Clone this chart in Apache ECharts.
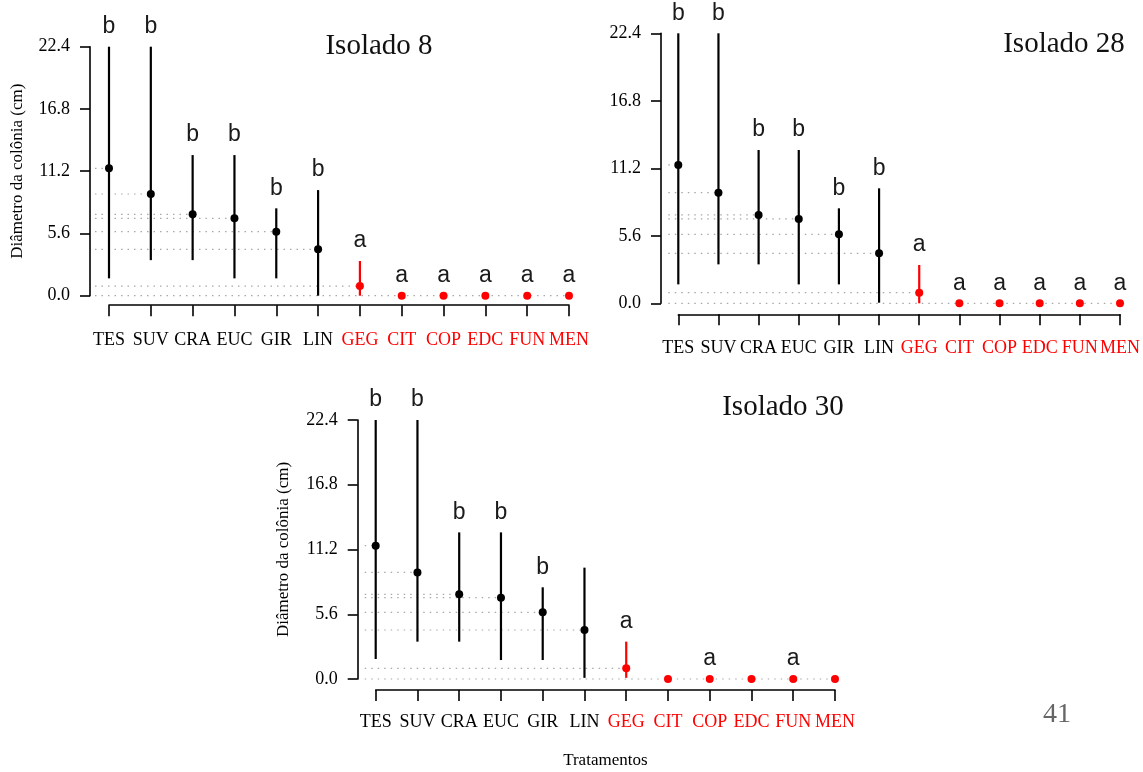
<!DOCTYPE html>
<html><head><meta charset="utf-8">
<script src="https://cdn.jsdelivr.net/npm/echarts@6/dist/echarts.min.js"></script>
<style>html,body{margin:0;padding:0;background:#fff}#c{width:1143px;height:772px}</style>
</head><body><div id="c"></div>
<script>
// ---------- data ----------
const categories = ["TES","SUV","CRA","EUC","GIR","LIN","GEG","CIT","COP","EDC","FUN","MEN"];
const nBlack = 6; // first six treatments drawn in black, the rest in red
const yTickStep = 5.6;
const yMax = 22.4;

const mean8 = [11.46, 9.15, 7.32, 6.96, 5.76, 4.17, 0.87, 0, 0, 0, 0, 0];
const low8  = [1.56, 3.20, 3.20, 1.56, 1.56, 0.00, 0.00, 0, 0, 0, 0, 0];
const up8   = [22.4, 22.4, 12.65, 12.65, 7.86, 9.50, 3.12, 0, 0, 0, 0, 0];
const letters8 = ["b","b","b","b","b","b","a","a","a","a","a","a"];

const mean28 = [11.48, 9.18, 7.33, 7.00, 5.72, 4.15, 0.88, 0, 0, 0, 0, 0];
const low28  = [1.57, 3.23, 3.23, 1.57, 1.57, 0.05, 0.00, 0, 0, 0, 0, 0];
const up28   = [22.4, 22.4, 12.72, 12.72, 7.88, 9.54, 3.18, 0, 0, 0, 0, 0];
const letters28 = ["b","b","b","b","b","b","a","a","a","a","a","a"];

const mean30 = [11.53, 9.22, 7.32, 7.03, 5.77, 4.24, 0.92, 0, 0, 0, 0, 0];
const low30  = [1.73, 3.23, 3.23, 1.64, 1.64, 0.10, 0.10, 0, 0, 0, 0, 0];
const up30   = [22.4, 22.4, 12.68, 12.68, 7.93, 9.63, 3.23, 0, 0, 0, 0, 0];
const letters30 = ["b","b","b","b","b","","a","","a","","a",""];

const yName = "Diâmetro da colônia (cm)";
const xName = "Tratamentos";
const pageNumber = "41";

// ---------- layout ----------
const SERIF = '"Liberation Serif", "Times New Roman", serif';
const SANS = '"Liberation Sans", Arial, sans-serif';
const panels = [
  {title:"Isolado 8", mean:mean8, low:low8, up:up8, letters:letters8,
   grid:{left:109, top:46.7, width:460, height:249}, xOff:9.5, yOff:19,
   xLabelMargin:26, yName:yName, yNameGap:64, titleX:379, titleY:46, guide:14},
  {title:"Isolado 28", mean:mean28, low:low28, up:up28, letters:letters28,
   grid:{left:678.3, top:33.3, width:445.7, height:270}, xOff:11, yOff:17.3,
   xLabelMargin:25, yName:"", yNameGap:60, titleX:1064, titleY:44, guide:10},
  {title:"Isolado 30", mean:mean30, low:low30, up:up30, letters:letters30,
   grid:{left:375.7, top:420, width:459.3, height:259}, xOff:11, yOff:18,
   xLabelMargin:23, yName:yName, yNameGap:66, titleX:783, titleY:407, guide:11,
   xName:xName}
];

const colorOf = i => i < nBlack ? "#000000" : "#ff0000";

const grids = [], xAxes = [], yAxes = [], series = [], graphics = [];
panels.forEach((p, k) => {
  grids.push(Object.assign({containLabel:false}, p.grid));
  xAxes.push({
    type:"category", gridIndex:k, data:categories, boundaryGap:false,
    offset:p.xOff,
    axisLine:{show:true, onZero:false, lineStyle:{color:"#000", width:1.6}},
    axisTick:{show:true, length:11, lineStyle:{color:"#000", width:1.6}},
    axisLabel:{show:true, interval:0, margin:p.xLabelMargin - 11 + 11, fontFamily:SERIF, fontSize:18,
      color:(v, i) => colorOf(categories.indexOf(v))},
    splitLine:{show:false},
    name:p.xName || "", nameLocation:"middle", nameGap:62,
    nameTextStyle:{fontFamily:SERIF, fontSize:17, color:"#000"}
  });
  yAxes.push({
    type:"value", gridIndex:k, min:0, max:yMax, interval:yTickStep,
    offset:p.yOff,
    axisLine:{show:true, onZero:false, lineStyle:{color:"#000", width:1.6}},
    axisTick:{show:true, length:10, lineStyle:{color:"#000", width:1.6}},
    axisLabel:{margin:20, fontFamily:SERIF, fontSize:18, color:"#000",
      formatter:v => v.toFixed(1)},
    splitLine:{show:false},
    name:p.yName, nameLocation:"middle", nameGap:p.yNameGap, nameRotate:90,
    nameTextStyle:{fontFamily:SERIF, fontSize:17, color:"#000"}
  });
  const rows = categories.map((c, i) => [i, p.mean[i], p.low[i], p.up[i]]);
  // dotted guide lines from the left to each mean (one per distinct level)
  series.push({
    type:"custom", xAxisIndex:k, yAxisIndex:k, data:rows, clip:false, z:1,
    renderItem:(params, api) => {
      const i = api.value(0), m = api.value(1);
      const idx = params.dataIndex;
      for (let j = idx + 1; j < p.mean.length; j++) {
        if (p.mean[j] === p.mean[idx]) return {type:"group", children:[]};
      }
      const pt = api.coord([i, m]);
      const start = api.coord([0, m])[0] - p.guide;
      return {type:"line", shape:{x1:start, y1:pt[1], x2:pt[0], y2:pt[1]},
        style:{stroke:"#a8a8a8", lineWidth:1.2, lineDash:[1.5, 5]}};
    }
  });
  // error bars and letters
  series.push({
    type:"custom", xAxisIndex:k, yAxisIndex:k, data:rows, clip:false, z:3,
    renderItem:(params, api) => {
      const i = api.value(0), lo = api.value(2), hi = api.value(3);
      const top = api.coord([i, hi]), bot = api.coord([i, lo]);
      const children = [];
      if (hi > lo) children.push({type:"line",
        shape:{x1:top[0], y1:top[1], x2:bot[0], y2:bot[1]},
        style:{stroke:colorOf(i), lineWidth:2.2}});
      const letter = p.letters[params.dataIndex];
      if (letter) children.push({type:"text",
        style:{text:letter, x:top[0], y:top[1] - 20, align:"center", verticalAlign:"middle",
          font:"23px " + SANS, fill:"#1a1a1a"}});
      return {type:"group", children:children};
    }
  });
  // means
  series.push({
    type:"scatter", xAxisIndex:k, yAxisIndex:k, clip:false, z:4,
    symbol:"circle", symbolSize:8,
    data:rows.map(r => [r[0], r[1]]),
    itemStyle:{color:(prm) => colorOf(prm.dataIndex), opacity:1}
  });
  graphics.push({type:"text", x:p.titleX, y:p.titleY,
    style:{text:p.title, font:"29px " + SERIF, fill:"#111", align:"center", verticalAlign:"middle"}});
});
graphics.push({type:"text", x:1057, y:715,
  style:{text:pageNumber, font:"28px " + SERIF, fill:"#666", align:"center", verticalAlign:"middle"}});

const chart = echarts.init(document.getElementById("c"), null, {renderer:"canvas"});
chart.setOption({
  animation:false, backgroundColor:"#ffffff",
  grid:grids, xAxis:xAxes, yAxis:yAxes, series:series, graphic:graphics
});
</script></body></html>
